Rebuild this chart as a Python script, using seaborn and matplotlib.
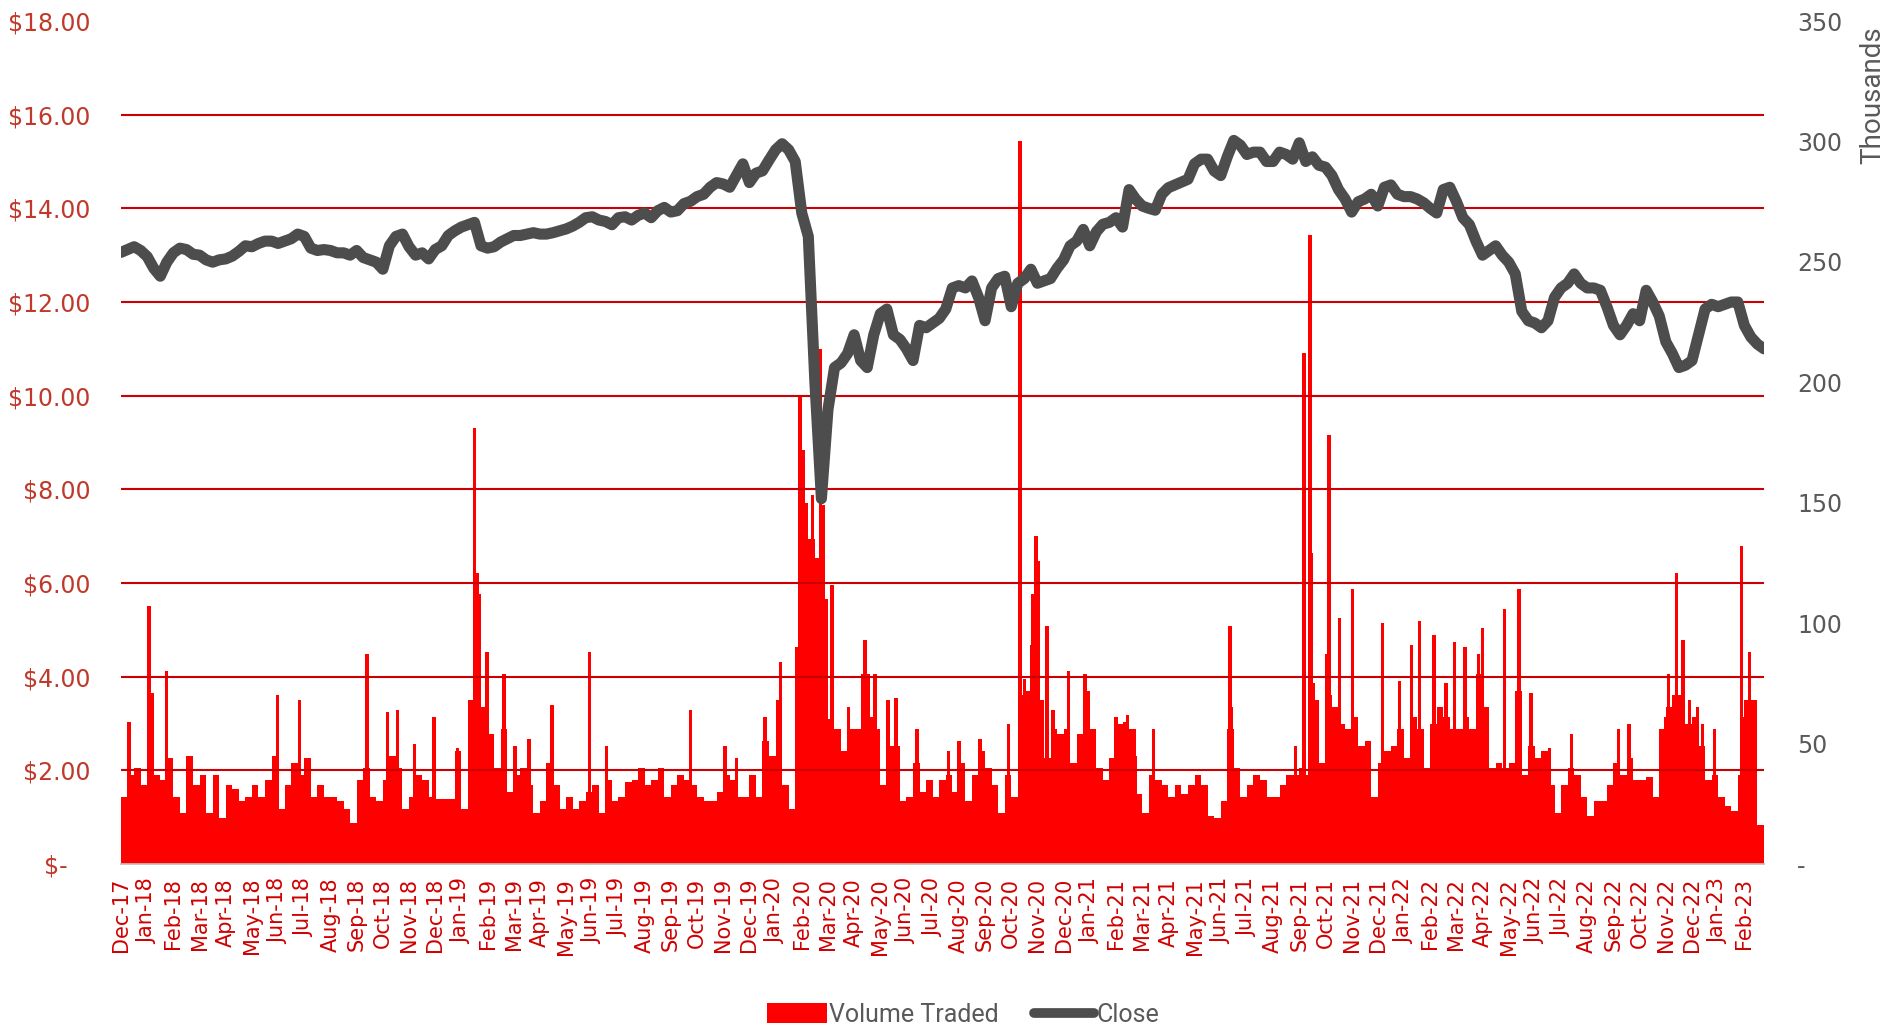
import numpy as np
import pandas as pd
import matplotlib
matplotlib.use("Agg")
import matplotlib.pyplot as plt
import seaborn as sns
from matplotlib import font_manager
from matplotlib.patches import Patch
from matplotlib.lines import Line2D

# closing price, one reading every quarter of a month from Dec-17
close = [
    13.06, 13.12, 13.18, 13.10, 12.97, 12.72, 12.55, 12.85,
    13.05, 13.15, 13.12, 13.02, 13.00, 12.90, 12.85, 12.90,
    12.92, 12.98, 13.08, 13.20, 13.18, 13.25, 13.30, 13.30,
    13.25, 13.30, 13.35, 13.45, 13.40, 13.15, 13.10, 13.12,
    13.10, 13.05, 13.05, 13.00, 13.10, 12.95, 12.90, 12.85,
    12.70, 13.20, 13.40, 13.45, 13.18, 13.00, 13.05, 12.92,
    13.12, 13.20, 13.42, 13.52, 13.60, 13.65, 13.70, 13.20,
    13.15, 13.18, 13.28, 13.35, 13.42, 13.42, 13.45, 13.48,
    13.45, 13.45, 13.48, 13.52, 13.56, 13.62, 13.70, 13.80,
    13.82, 13.75, 13.72, 13.65, 13.80, 13.82, 13.75, 13.85,
    13.90, 13.80, 13.95, 14.02, 13.92, 13.95, 14.10, 14.15,
    14.25, 14.30, 14.45, 14.55, 14.52, 14.45, 14.70, 14.95,
    14.55, 14.75, 14.80, 15.03, 15.25, 15.38, 15.25, 15.00,
    13.90, 13.40, 10.30, 7.80, 9.70, 10.60, 10.70, 10.90,
    11.30, 10.75, 10.60, 11.30, 11.75, 11.85, 11.30, 11.20,
    11.00, 10.75, 11.50, 11.45, 11.55, 11.65, 11.85, 12.30,
    12.35, 12.30, 12.45, 12.10, 11.60, 12.30, 12.50, 12.55,
    11.90, 12.40, 12.50, 12.70, 12.40, 12.45, 12.50, 12.72,
    12.90, 13.20, 13.30, 13.55, 13.20, 13.50, 13.66, 13.70,
    13.80, 13.60, 14.40, 14.20, 14.05, 14.00, 13.96, 14.30,
    14.44, 14.50, 14.56, 14.62, 14.95, 15.05, 15.05, 14.80,
    14.70, 15.10, 15.45, 15.35, 15.15, 15.20, 15.20, 15.00,
    15.00, 15.20, 15.15, 15.05, 15.40, 15.00, 15.10, 14.92,
    14.88, 14.70, 14.40, 14.20, 13.92, 14.14, 14.20, 14.30,
    14.05, 14.45, 14.50, 14.30, 14.25, 14.25, 14.20, 14.12,
    14.00, 13.90, 14.40, 14.45, 14.15, 13.80, 13.65, 13.30,
    13.00, 13.10, 13.20, 13.00, 12.85, 12.60, 11.80, 11.60,
    11.55, 11.45, 11.60, 12.10, 12.30, 12.40, 12.60, 12.40,
    12.30, 12.30, 12.25, 11.90, 11.50, 11.30, 11.50, 11.75,
    11.60, 12.25, 12.00, 11.70, 11.15, 10.90, 10.60, 10.65,
    10.75, 11.30, 11.85, 11.95, 11.90, 11.95, 12.00, 12.00,
    11.50, 11.25, 11.10, 11.00,
]

# typical volume traded (thousands) in each quarter month
volume = [
    28, 37, 40, 33, 71, 37, 35, 44,
    28, 21, 45, 33, 37, 21, 37, 19,
    33, 31, 26, 28, 33, 28, 35, 45,
    23, 33, 42, 37, 44, 28, 33, 28,
    28, 26, 23, 17, 35, 40, 28, 26,
    35, 45, 40, 23, 28, 37, 35, 28,
    27, 27, 27, 47, 23, 68, 112, 65,
    54, 40, 56, 30, 37, 40, 33, 21,
    26, 42, 33, 23, 28, 23, 26, 30,
    33, 21, 35, 26, 28, 34, 35, 40,
    33, 35, 40, 28, 33, 37, 35, 33,
    28, 26, 26, 30, 37, 35, 28, 28,
    37, 28, 51, 45, 68, 33, 23, 90,
    150, 135, 127, 110, 60, 56, 47, 56,
    56, 79, 61, 56, 33, 49, 49, 26,
    28, 42, 30, 35, 28, 35, 37, 30,
    42, 26, 37, 47, 40, 33, 21, 37,
    28, 70, 72, 112, 68, 44, 56, 54,
    56, 42, 54, 70, 56, 40, 35, 44,
    58, 59, 56, 29, 21, 37, 35, 33,
    28, 33, 29, 33, 37, 33, 20, 19,
    26, 56, 40, 28, 33, 37, 35, 28,
    28, 33, 37, 37, 40, 37, 68, 42,
    70, 65, 58, 56, 61, 49, 51, 28,
    42, 47, 49, 56, 44, 61, 56, 40,
    58, 65, 61, 56, 56, 61, 56, 79,
    65, 40, 42, 40, 42, 72, 37, 49,
    44, 47, 33, 21, 33, 40, 37, 28,
    20, 26, 26, 33, 42, 37, 44, 35,
    35, 36, 28, 56, 65, 70, 61, 58,
    61, 49, 35, 37, 28, 24, 22, 37,
    68, 56, 16,
]

# single-day volume spikes: month offset from Dec-17, thousands traded
spike_month = [
    0.3, 1.07, 1.74, 5.97, 6.82, 9.4, 10.17, 10.55, 11.2, 11.95, 12.85,
    13.5, 13.6, 13.68, 13.98, 14.62, 15.05, 15.58, 16.46, 17.9, 18.55,
    21.74, 23.07, 23.5, 24.6, 25.18, 25.94, 26.05, 26.4, 26.72, 26.82,
    27.16, 27.78, 28.42, 28.55, 28.8, 29.3, 29.6, 30.4, 31.6, 32.0,
    32.8, 33.9, 34.34, 34.5, 34.78, 34.95, 35.05, 35.36, 35.6, 36.18,
    36.6, 36.82, 36.95, 38.0, 38.45, 38.72, 39.43, 42.35, 42.42, 44.85,
    45.18, 45.41, 45.47, 45.55, 46.05, 46.13, 46.53, 47.04, 48.17, 48.84,
    49.29, 49.6, 50.14, 50.6, 50.94, 51.33, 51.85, 51.99, 52.85, 53.4,
    53.85, 54.55, 55.4, 57.2, 57.6, 58.85, 59.0, 59.1, 59.4, 59.52,
    59.65, 59.9, 60.2, 60.4, 60.85, 61.88, 61.95, 62.2, 62.3, 62.4,
]
spike_volume = [
    59, 107, 80, 70, 68, 87, 63, 64, 50, 61, 48,
    181, 121, 112, 88, 79, 49, 52, 66, 88, 49,
    64, 49, 44, 61, 84, 194, 172, 153, 214, 149,
    116, 65, 93, 79, 79, 68, 69, 56, 47, 51,
    52, 58, 300, 77, 91, 136, 126, 99, 64, 80,
    54, 79, 72, 61, 62, 45, 56, 99, 65, 49,
    212, 261, 129, 75, 87, 178, 102, 114, 100, 76,
    91, 101, 95, 75, 92, 90, 87, 98, 106, 114,
    71, 48, 54, 56, 58, 55, 61, 79, 121, 70,
    93, 68, 65, 58, 56, 132, 61, 88, 68, 68,
]

month_labels = pd.date_range("2017-12-01", "2023-02-01", freq="MS").strftime("%b-%y")
price_ticks = list(range(0, 19, 2))
volume_ticks = list(range(0, 351, 50))

sns.set_theme(style="white")
installed = {f.name for f in font_manager.fontManager.ttflist}
narrow = "Liberation Sans Narrow" if "Liberation Sans Narrow" in installed else "Roboto"
plt.rcParams["font.family"] = ["DejaVu Sans"]

RED = "#FF0000"
GREY_LINE = "#4D4D4D"
GREY_TEXT = "#595959"

step = 0.25
df_close = pd.DataFrame({"month": np.arange(len(close)) * step, "close": close})
vol_x = np.arange(len(volume)) * step

fig = plt.figure(figsize=(19.04, 10.29), dpi=100)
ax = fig.add_axes([121 / 1904, 1 - 864 / 1029, (1764 - 121) / 1904, (864 - 21) / 1029])
ax2 = ax.twinx()
ax.set_zorder(ax2.get_zorder() + 1)
ax.patch.set_visible(False)

# volume bars on the right axis
ax2.bar(vol_x, volume, width=step, align="edge", color=RED, linewidth=0)
ax2.bar(spike_month, spike_volume, width=0.13, color=RED, linewidth=0)
ax2.set_ylim(0, 350)
ax2.set_yticks(volume_ticks)
ax2.set_yticklabels(["-" if v == 0 else str(v) for v in volume_ticks])
ax2.tick_params(axis="y", length=0, pad=24, labelsize=17, labelcolor=GREY_TEXT)
for s in ax2.spines.values():
    s.set_visible(False)

# price gridlines + close line on the left axis
for y in price_ticks[1:-1]:
    ax.axhline(y, color="#CC0000", linewidth=1.5, zorder=1)
sns.lineplot(data=df_close, x="month", y="close", ax=ax, color=GREY_LINE,
             linewidth=8, solid_capstyle="round", solid_joinstyle="round", zorder=3)
ax.set_ylim(0, 18)
ax.set_xlim(0, len(close) * step - step)
ax.set_yticks(price_ticks)
ax.set_yticklabels(["$-   " if v == 0 else f"${v:.2f}" for v in price_ticks])
ax.tick_params(axis="y", length=0, pad=22, labelsize=17, labelcolor="#C0392B")
ax.set_xticks(np.arange(len(month_labels)))
ax.set_xticklabels(month_labels, rotation=90, fontsize=15, color="#D00000")
ax.tick_params(axis="x", length=8, width=1, color="#BFBFBF", direction="out", pad=2)
ax.set_xlabel("")
ax.set_ylabel("")
for name, s in ax.spines.items():
    s.set_visible(name == "bottom")
ax.spines["bottom"].set_color("#BFBFBF")
ax.grid(False)
ax2.grid(False)

fig.text(1873 / 1904, 1 - 95 / 1029, "Thousands", rotation=90, ha="center", va="center",
         color=GREY_TEXT, fontsize=20, family=[narrow, "DejaVu Sans"])

handles = [
    Patch(facecolor=RED, edgecolor="none", label="Volume Traded"),
    Line2D([], [], color=GREY_LINE, linewidth=7, label="Close"),
]
fig.legend(handles=handles, loc="center", bbox_to_anchor=(963 / 1904, 1 - 1015 / 1029),
           ncol=2, frameon=False, prop={"family": [narrow, "DejaVu Sans"], "size": 18},
           handlelength=2.4, handleheight=0.85, handletextpad=0.1, columnspacing=1.4,
           labelcolor=GREY_TEXT, borderaxespad=0, borderpad=0)

fig.savefig("out.png", dpi=100)
